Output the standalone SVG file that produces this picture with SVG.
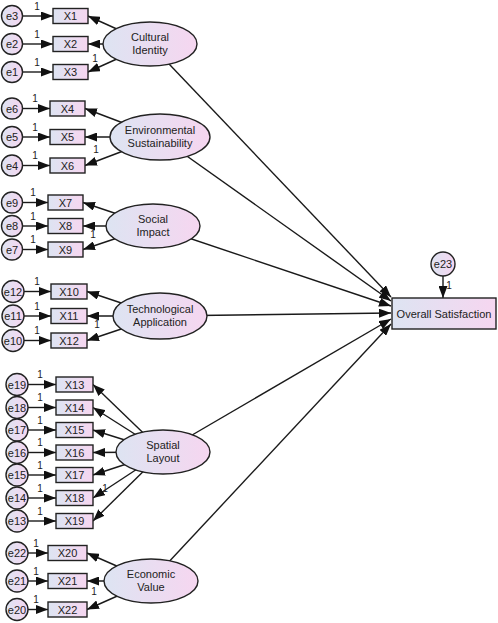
<svg xmlns="http://www.w3.org/2000/svg" width="498" height="623" viewBox="0 0 498 623">
<defs>
<linearGradient id="g" x1="0" y1="0" x2="1" y2="0">
<stop offset="0" stop-color="#dde4f2"/>
<stop offset="1" stop-color="#f6d6f0"/>
</linearGradient>
<marker id="a" markerUnits="userSpaceOnUse" markerWidth="12" markerHeight="9" refX="12" refY="4.5" orient="auto">
<path d="M0,0 L12,4.5 L0,9 z" fill="#111"/>
</marker>
<style>
.c{stroke:#1a1a1a;stroke-width:1.4;marker-end:url(#a);fill:none}
.n{fill:url(#g);stroke:#222;stroke-width:1.4}
.t{font-family:"Liberation Sans",Arial,sans-serif;font-size:11px;fill:#222;text-anchor:middle}
.o{font-family:"Liberation Sans",Arial,sans-serif;font-size:10px;fill:#222;text-anchor:middle}
</style>
</defs>
<rect width="498" height="623" fill="#fff"/>
<g id="connectors">
<line class="c" x1="22.5" y1="16" x2="53" y2="16"/>
<line class="c" x1="22.5" y1="44" x2="53" y2="44"/>
<line class="c" x1="22.5" y1="72" x2="53" y2="72"/>
<line class="c" x1="150" y1="44" x2="88" y2="16"/>
<line class="c" x1="150" y1="44" x2="88" y2="44"/>
<line class="c" x1="150" y1="44" x2="88" y2="72"/>
<line class="c" x1="22.5" y1="108.5" x2="50" y2="108.5"/>
<line class="c" x1="22.5" y1="137" x2="50" y2="137"/>
<line class="c" x1="22.5" y1="165.5" x2="50" y2="165.5"/>
<line class="c" x1="160" y1="137" x2="85" y2="108.5"/>
<line class="c" x1="160" y1="137" x2="85" y2="137"/>
<line class="c" x1="160" y1="137" x2="85" y2="165.5"/>
<line class="c" x1="22.5" y1="202.5" x2="48" y2="202.5"/>
<line class="c" x1="22.5" y1="226" x2="48" y2="226"/>
<line class="c" x1="22.5" y1="249.5" x2="48" y2="249.5"/>
<line class="c" x1="153" y1="226" x2="83" y2="202.5"/>
<line class="c" x1="153" y1="226" x2="83" y2="226"/>
<line class="c" x1="153" y1="226" x2="83" y2="249.5"/>
<line class="c" x1="24" y1="291.5" x2="51" y2="291.5"/>
<line class="c" x1="24" y1="316" x2="51" y2="316"/>
<line class="c" x1="24" y1="340.5" x2="51" y2="340.5"/>
<line class="c" x1="160" y1="316" x2="87" y2="291.5"/>
<line class="c" x1="160" y1="316" x2="87" y2="316"/>
<line class="c" x1="160" y1="316" x2="87" y2="340.5"/>
<line class="c" x1="28" y1="384.5" x2="56" y2="384.5"/>
<line class="c" x1="28" y1="407.5" x2="56" y2="407.5"/>
<line class="c" x1="28" y1="430" x2="56" y2="430"/>
<line class="c" x1="28" y1="452.5" x2="56" y2="452.5"/>
<line class="c" x1="28" y1="475" x2="56" y2="475"/>
<line class="c" x1="28" y1="498" x2="56" y2="498"/>
<line class="c" x1="28" y1="521" x2="56" y2="521"/>
<line class="c" x1="163" y1="452" x2="93" y2="384.5"/>
<line class="c" x1="163" y1="452" x2="93" y2="407.5"/>
<line class="c" x1="163" y1="452" x2="93" y2="430"/>
<line class="c" x1="163" y1="452" x2="93" y2="452.5"/>
<line class="c" x1="163" y1="452" x2="93" y2="475"/>
<line class="c" x1="163" y1="452" x2="93" y2="498"/>
<line class="c" x1="163" y1="452" x2="93" y2="521"/>
<line class="c" x1="28" y1="553" x2="48" y2="553"/>
<line class="c" x1="28" y1="581" x2="48" y2="581"/>
<line class="c" x1="28" y1="609.5" x2="48" y2="609.5"/>
<line class="c" x1="151" y1="581" x2="87" y2="553"/>
<line class="c" x1="151" y1="581" x2="87" y2="581"/>
<line class="c" x1="151" y1="581" x2="87" y2="609.5"/>
<line class="c" x1="150" y1="44" x2="391" y2="297"/>
<line class="c" x1="160" y1="137" x2="391" y2="301"/>
<line class="c" x1="153" y1="226" x2="391" y2="306"/>
<line class="c" x1="160" y1="316" x2="391" y2="313"/>
<line class="c" x1="163" y1="452" x2="391" y2="319"/>
<line class="c" x1="151" y1="581" x2="391" y2="324"/>
<line class="c" x1="443" y1="276" x2="443" y2="298"/>
</g>
<g id="labels">
<text class="o" x="37" y="10">1</text>
<text class="o" x="37" y="38">1</text>
<text class="o" x="37" y="66">1</text>
<text class="o" x="95" y="62">1</text>
<text class="o" x="35" y="102">1</text>
<text class="o" x="35" y="131">1</text>
<text class="o" x="35" y="159">1</text>
<text class="o" x="96" y="153">1</text>
<text class="o" x="33" y="196">1</text>
<text class="o" x="33" y="220">1</text>
<text class="o" x="33" y="243">1</text>
<text class="o" x="93" y="238">1</text>
<text class="o" x="37" y="285">1</text>
<text class="o" x="37" y="310">1</text>
<text class="o" x="37" y="334">1</text>
<text class="o" x="97" y="328">1</text>
<text class="o" x="40" y="378">1</text>
<text class="o" x="40" y="401">1</text>
<text class="o" x="40" y="424">1</text>
<text class="o" x="40" y="446">1</text>
<text class="o" x="40" y="469">1</text>
<text class="o" x="40" y="492">1</text>
<text class="o" x="40" y="515">1</text>
<text class="o" x="105" y="492">1</text>
<text class="o" x="36" y="547">1</text>
<text class="o" x="36" y="575">1</text>
<text class="o" x="36" y="603">1</text>
<text class="o" x="94" y="595">1</text>
<text class="o" x="449" y="289">1</text>
</g>
<g id="e3"><circle class="n" cx="12" cy="16" r="10.5"/><text class="t" x="12" y="20">e3</text></g>
<g id="e2"><circle class="n" cx="12" cy="44" r="10.5"/><text class="t" x="12" y="48">e2</text></g>
<g id="e1"><circle class="n" cx="12" cy="72" r="10.5"/><text class="t" x="12" y="76">e1</text></g>
<g id="e6"><circle class="n" cx="12" cy="108.5" r="10.5"/><text class="t" x="12" y="112.5">e6</text></g>
<g id="e5"><circle class="n" cx="12" cy="137" r="10.5"/><text class="t" x="12" y="141">e5</text></g>
<g id="e4"><circle class="n" cx="12" cy="165.5" r="10.5"/><text class="t" x="12" y="169.5">e4</text></g>
<g id="e9"><circle class="n" cx="12" cy="202.5" r="10.5"/><text class="t" x="12" y="206.5">e9</text></g>
<g id="e8"><circle class="n" cx="12" cy="226" r="10.5"/><text class="t" x="12" y="230">e8</text></g>
<g id="e7"><circle class="n" cx="12" cy="249.5" r="10.5"/><text class="t" x="12" y="253.5">e7</text></g>
<g id="e12"><circle class="n" cx="13" cy="291.5" r="11"/><text class="t" x="13" y="295.5">e12</text></g>
<g id="e11"><circle class="n" cx="13" cy="316" r="11"/><text class="t" x="13" y="320">e11</text></g>
<g id="e10"><circle class="n" cx="13" cy="340.5" r="11"/><text class="t" x="13" y="344.5">e10</text></g>
<g id="e19"><circle class="n" cx="17" cy="384.5" r="11"/><text class="t" x="17" y="388.5">e19</text></g>
<g id="e18"><circle class="n" cx="17" cy="407.5" r="11"/><text class="t" x="17" y="411.5">e18</text></g>
<g id="e17"><circle class="n" cx="17" cy="430" r="11"/><text class="t" x="17" y="434">e17</text></g>
<g id="e16"><circle class="n" cx="17" cy="452.5" r="11"/><text class="t" x="17" y="456.5">e16</text></g>
<g id="e15"><circle class="n" cx="17" cy="475" r="11"/><text class="t" x="17" y="479">e15</text></g>
<g id="e14"><circle class="n" cx="17" cy="498" r="11"/><text class="t" x="17" y="502">e14</text></g>
<g id="e13"><circle class="n" cx="17" cy="521" r="11"/><text class="t" x="17" y="525">e13</text></g>
<g id="e22"><circle class="n" cx="17" cy="553" r="11"/><text class="t" x="17" y="557">e22</text></g>
<g id="e21"><circle class="n" cx="17" cy="581" r="11"/><text class="t" x="17" y="585">e21</text></g>
<g id="e20"><circle class="n" cx="17" cy="609.5" r="11"/><text class="t" x="17" y="613.5">e20</text></g>
<g id="e23"><circle class="n" cx="443" cy="264" r="12"/><text class="t" x="443" y="268">e23</text></g>
<g id="X1"><rect class="n" x="53" y="8.5" width="35" height="15"/><text class="t" x="70.5" y="20">X1</text></g>
<g id="X2"><rect class="n" x="53" y="36.5" width="35" height="15"/><text class="t" x="70.5" y="48">X2</text></g>
<g id="X3"><rect class="n" x="53" y="64.5" width="35" height="15"/><text class="t" x="70.5" y="76">X3</text></g>
<g id="X4"><rect class="n" x="50" y="101" width="35" height="15"/><text class="t" x="67.5" y="112.5">X4</text></g>
<g id="X5"><rect class="n" x="50" y="129.5" width="35" height="15"/><text class="t" x="67.5" y="141">X5</text></g>
<g id="X6"><rect class="n" x="50" y="158" width="35" height="15"/><text class="t" x="67.5" y="169.5">X6</text></g>
<g id="X7"><rect class="n" x="48" y="195" width="35" height="15"/><text class="t" x="65.5" y="206.5">X7</text></g>
<g id="X8"><rect class="n" x="48" y="218.5" width="35" height="15"/><text class="t" x="65.5" y="230">X8</text></g>
<g id="X9"><rect class="n" x="48" y="242" width="35" height="15"/><text class="t" x="65.5" y="253.5">X9</text></g>
<g id="X10"><rect class="n" x="51" y="284" width="36" height="15"/><text class="t" x="69" y="295.5">X10</text></g>
<g id="X11"><rect class="n" x="51" y="308.5" width="36" height="15"/><text class="t" x="69" y="320">X11</text></g>
<g id="X12"><rect class="n" x="51" y="333" width="36" height="15"/><text class="t" x="69" y="344.5">X12</text></g>
<g id="X13"><rect class="n" x="56" y="377" width="37" height="15"/><text class="t" x="74.5" y="388.5">X13</text></g>
<g id="X14"><rect class="n" x="56" y="400" width="37" height="15"/><text class="t" x="74.5" y="411.5">X14</text></g>
<g id="X15"><rect class="n" x="56" y="422.5" width="37" height="15"/><text class="t" x="74.5" y="434">X15</text></g>
<g id="X16"><rect class="n" x="56" y="445" width="37" height="15"/><text class="t" x="74.5" y="456.5">X16</text></g>
<g id="X17"><rect class="n" x="56" y="467.5" width="37" height="15"/><text class="t" x="74.5" y="479">X17</text></g>
<g id="X18"><rect class="n" x="56" y="490.5" width="37" height="15"/><text class="t" x="74.5" y="502">X18</text></g>
<g id="X19"><rect class="n" x="56" y="513.5" width="37" height="15"/><text class="t" x="74.5" y="525">X19</text></g>
<g id="X20"><rect class="n" x="48" y="545.5" width="39" height="15"/><text class="t" x="67.5" y="557">X20</text></g>
<g id="X21"><rect class="n" x="48" y="573.5" width="39" height="15"/><text class="t" x="67.5" y="585">X21</text></g>
<g id="X22"><rect class="n" x="48" y="602" width="39" height="15"/><text class="t" x="67.5" y="613.5">X22</text></g>
<g id="CulturalIdentity"><ellipse class="n" cx="150" cy="44" rx="47" ry="22"/><text class="t" x="150" y="41">Cultural</text><text class="t" x="150" y="54">Identity</text></g>
<g id="EnvironmentalSustainability"><ellipse class="n" cx="160" cy="137" rx="50" ry="23"/><text class="t" x="160" y="134">Environmental</text><text class="t" x="160" y="147">Sustainability</text></g>
<g id="SocialImpact"><ellipse class="n" cx="153" cy="226" rx="47" ry="22"/><text class="t" x="153" y="223">Social</text><text class="t" x="153" y="236">Impact</text></g>
<g id="TechnologicalApplication"><ellipse class="n" cx="160" cy="316" rx="47" ry="23"/><text class="t" x="160" y="313">Technological</text><text class="t" x="160" y="326">Application</text></g>
<g id="SpatialLayout"><ellipse class="n" cx="163" cy="452" rx="47" ry="22"/><text class="t" x="163" y="449">Spatial</text><text class="t" x="163" y="462">Layout</text></g>
<g id="EconomicValue"><ellipse class="n" cx="151" cy="581" rx="47" ry="22"/><text class="t" x="151" y="578">Economic</text><text class="t" x="151" y="591">Value</text></g>
<g id="OverallSatisfaction"><rect class="n" x="392" y="298" width="104" height="31"/><text class="t" x="444" y="317.5">Overall Satisfaction</text></g>
</svg>
